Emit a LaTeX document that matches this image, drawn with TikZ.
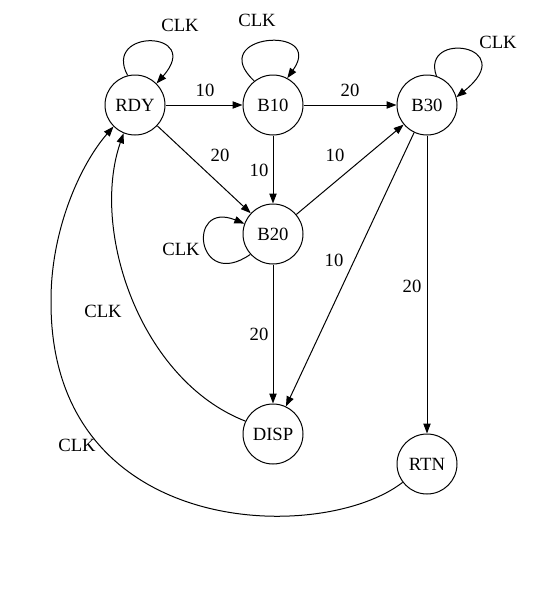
\documentclass[tikz,border=0pt]{standalone}
\usepackage{fontspec}
\setmainfont{Liberation Serif}
\usetikzlibrary{arrows.meta}
\begin{document}
\begin{tikzpicture}[x=0.75pt,y=-0.75pt,
  font=\fontsize{14pt}{16pt}\selectfont,
  state/.style={draw,circle,line width=0.75pt,minimum size=45pt,inner sep=0pt},
  trans/.style={line width=0.75pt,-{Triangle[length=7.5pt,width=5.5pt]}},
  lbl/.style={inner sep=0pt}]
\useasboundingbox (0,0) rectangle (557,600);

% states
\node[state] (RDY)  at (135,105) {RDY};
\node[state] (B10)  at (273,105) {B10};
\node[state] (B30)  at (427,105) {B30};
\node[state] (B20)  at (273,234) {B20};
\node[state] (DISP) at (273,434) {DISP};
\node[state] (RTN)  at (427,464) {RTN};

% coin transitions
\draw[trans] (RDY) -- (B10);
\draw[trans] (B10) -- (B30);
\draw[trans] (RDY) -- (B20);
\draw[trans] (B10) -- (B20);
\draw[trans] (B20) -- (B30);
\draw[trans] (B30) -- (DISP);
\draw[trans] (B20) -- (DISP);
\draw[trans] (B30) -- (RTN);

\node[lbl] (l1) at (205,90)  {10};
\node[lbl] (l2) at (350,90)  {20};
\node[lbl] (l3) at (220,155) {20};
\node[lbl] (l4) at (259,170) {10};
\node[lbl] (l5) at (335,155) {10};
\node[lbl] (l6) at (334,260) {10};
\node[lbl] (l7) at (259,334) {20};
\node[lbl] (l8) at (412,286) {20};

% clock self-loops
\draw[trans] (RDY.104) .. controls (102,28) and (204,30) .. (RDY.45);
\draw[trans] (B10.128) .. controls (204,34) and (326,24) .. (B10.62);
\draw[trans] (B30.72) .. controls (420,30) and (522,45) .. (B30.15);
\draw[trans] (B20.222) .. controls (196,292) and (186,200) .. (B20.160);

\node[lbl] (c1) at (180,25)  {CLK};
\node[lbl] (c2) at (257,20)  {CLK};
\node[lbl] (c3) at (498,42)  {CLK};
\node[lbl] (c4) at (181,249) {CLK};

% clock returns to RDY
\draw[trans] (DISP.155) .. controls (140,380) and (90,230) .. (RDY.248);
\coordinate (rim) at (51,300);
\draw[trans] (RTN.217) .. controls (322,545) and (49,540) .. (rim)
  .. controls (51,230) and (80,165) .. (RDY.225);

\node[lbl] (c5) at (103,311) {CLK};
\node[lbl] (c6) at (77,445)  {CLK};
\end{tikzpicture}
\end{document}
